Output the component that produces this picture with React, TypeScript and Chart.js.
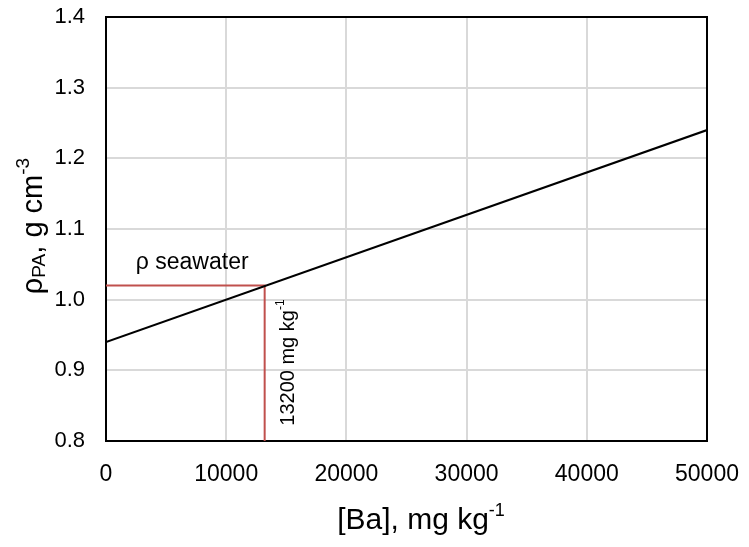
import React, { useEffect, useRef } from "react";
import { Chart, registerables } from "chart.js";

Chart.register(...registerables);

const xTicks = [0, 10000, 20000, 30000, 40000, 50000];
const yTicks = [0.8, 0.9, 1.0, 1.1, 1.2, 1.3, 1.4];
const lineX = [0, 50000];
const lineY = [0.94, 1.24];
const seawaterDensity = 1.02;
const seawaterBa = 13200;
const yMin = 0.8;
const seawaterLabel = "ρ seawater";
const baLabel = "13200 mg kg";

const FONT = "'Liberation Sans', Arial, sans-serif";

function drawRich(ctx: CanvasRenderingContext2D, parts: { t: string; size: number; dy: number }[], cx: number, cy: number) {
  let total = 0;
  for (const p of parts) {
    ctx.font = `${p.size}px ${FONT}`;
    total += ctx.measureText(p.t).width;
  }
  let x = cx - total / 2;
  ctx.textAlign = "left";
  ctx.textBaseline = "middle";
  for (const p of parts) {
    ctx.font = `${p.size}px ${FONT}`;
    ctx.fillText(p.t, x, cy + p.dy);
    x += ctx.measureText(p.t).width;
  }
}

const decorPlugin = {
  id: "decor",
  beforeDatasetsDraw(chart: any) {
    const { ctx, chartArea: a } = chart;
    ctx.save();
    ctx.strokeStyle = "#000";
    ctx.lineWidth = 2;
    ctx.strokeRect(a.left, a.top, a.right - a.left, a.bottom - a.top);
    ctx.restore();
  },
  afterDraw(chart: any) {
    const { ctx, scales } = chart;
    const xs = scales.x, ys = scales.y;
    ctx.save();
    ctx.fillStyle = "#000";
    // x title
    drawRich(ctx, [
      { t: "[Ba], mg kg", size: 30, dy: 0 },
      { t: "-1", size: 18, dy: -10 },
    ], 421, 521);
    // y title
    ctx.save();
    ctx.translate(34, 226);
    ctx.rotate(-Math.PI / 2);
    drawRich(ctx, [
      { t: "ρ", size: 29, dy: 0 },
      { t: "PA", size: 19, dy: 6 },
      { t: ", g cm", size: 29, dy: 0 },
      { t: "-3", size: 19, dy: -10 },
    ], 0, 0);
    ctx.restore();
    // seawater label
    drawRich(ctx, [{ t: seawaterLabel, size: 23, dy: 0 }], xs.getPixelForValue(7170), ys.getPixelForValue(1.052));
    // rotated Ba label
    ctx.save();
    ctx.translate(xs.getPixelForValue(15150), ys.getPixelForValue(0.911));
    ctx.rotate(-Math.PI / 2);
    drawRich(ctx, [
      { t: baLabel, size: 20, dy: 0 },
      { t: "-1", size: 12, dy: -7 },
    ], 0, 0);
    ctx.restore();
    ctx.restore();
  },
};

export default function App() {
  const ref = useRef<HTMLCanvasElement>(null);
  useEffect(() => {
    const chart = new Chart(ref.current!, {
      type: "scatter",
      data: {
        datasets: [
          {
            type: "line",
            data: lineX.map((x, i) => ({ x, y: lineY[i] })),
            borderColor: "#000",
            borderWidth: 2,
            pointRadius: 0,
            showLine: true,
          },
          {
            type: "line",
            data: [
              { x: 0, y: seawaterDensity },
              { x: seawaterBa, y: seawaterDensity },
              { x: seawaterBa, y: yMin },
            ],
            borderColor: "#C0504D",
            borderWidth: 2,
            pointRadius: 0,
            showLine: true,
          },
        ],
      },
      options: {
        animation: false,
        responsive: false,
        devicePixelRatio: 1,
        layout: { padding: { left: 0, top: 17, right: 42, bottom: 0 } },
        plugins: { legend: { display: false }, tooltip: { enabled: false } },
        scales: {
          x: {
            type: "linear",
            min: xTicks[0],
            max: xTicks[xTicks.length - 1],
            afterBuildTicks: (s: any) => { s.ticks = xTicks.map((v) => ({ value: v })); },
            afterFit: (s: any) => { s.height = 106; s.paddingLeft = 0; s.paddingRight = 0; },
            grid: { color: "#d9d9d9", lineWidth: 2, drawTicks: false },
            border: { display: false },
            ticks: { color: "#000", padding: 20, maxRotation: 0, autoSkip: false, font: { family: FONT, size: 23 }, callback: (v: any) => String(v) },
          },
          y: {
            type: "linear",
            min: yTicks[0],
            max: yTicks[yTicks.length - 1],
            afterBuildTicks: (s: any) => { s.ticks = yTicks.map((v) => ({ value: v })); },
            afterFit: (s: any) => { s.width = 106; s.paddingTop = 0; s.paddingBottom = 0; },
            grid: { color: "#d9d9d9", lineWidth: 2, drawTicks: false },
            border: { display: false },
            ticks: { color: "#000", padding: 21, autoSkip: false, font: { family: FONT, size: 22 }, callback: (v: any) => Number(v).toFixed(1) },
          },
        },
      },
      plugins: [decorPlugin],
    } as any);
    return () => chart.destroy();
  }, []);
  return (
    <div style={{ position: "fixed", left: 0, top: 0, width: 749, height: 547, background: "#fff" }}>
      <canvas ref={ref} width={749} height={547} style={{ width: 749, height: 547 }} />
    </div>
  );
}
